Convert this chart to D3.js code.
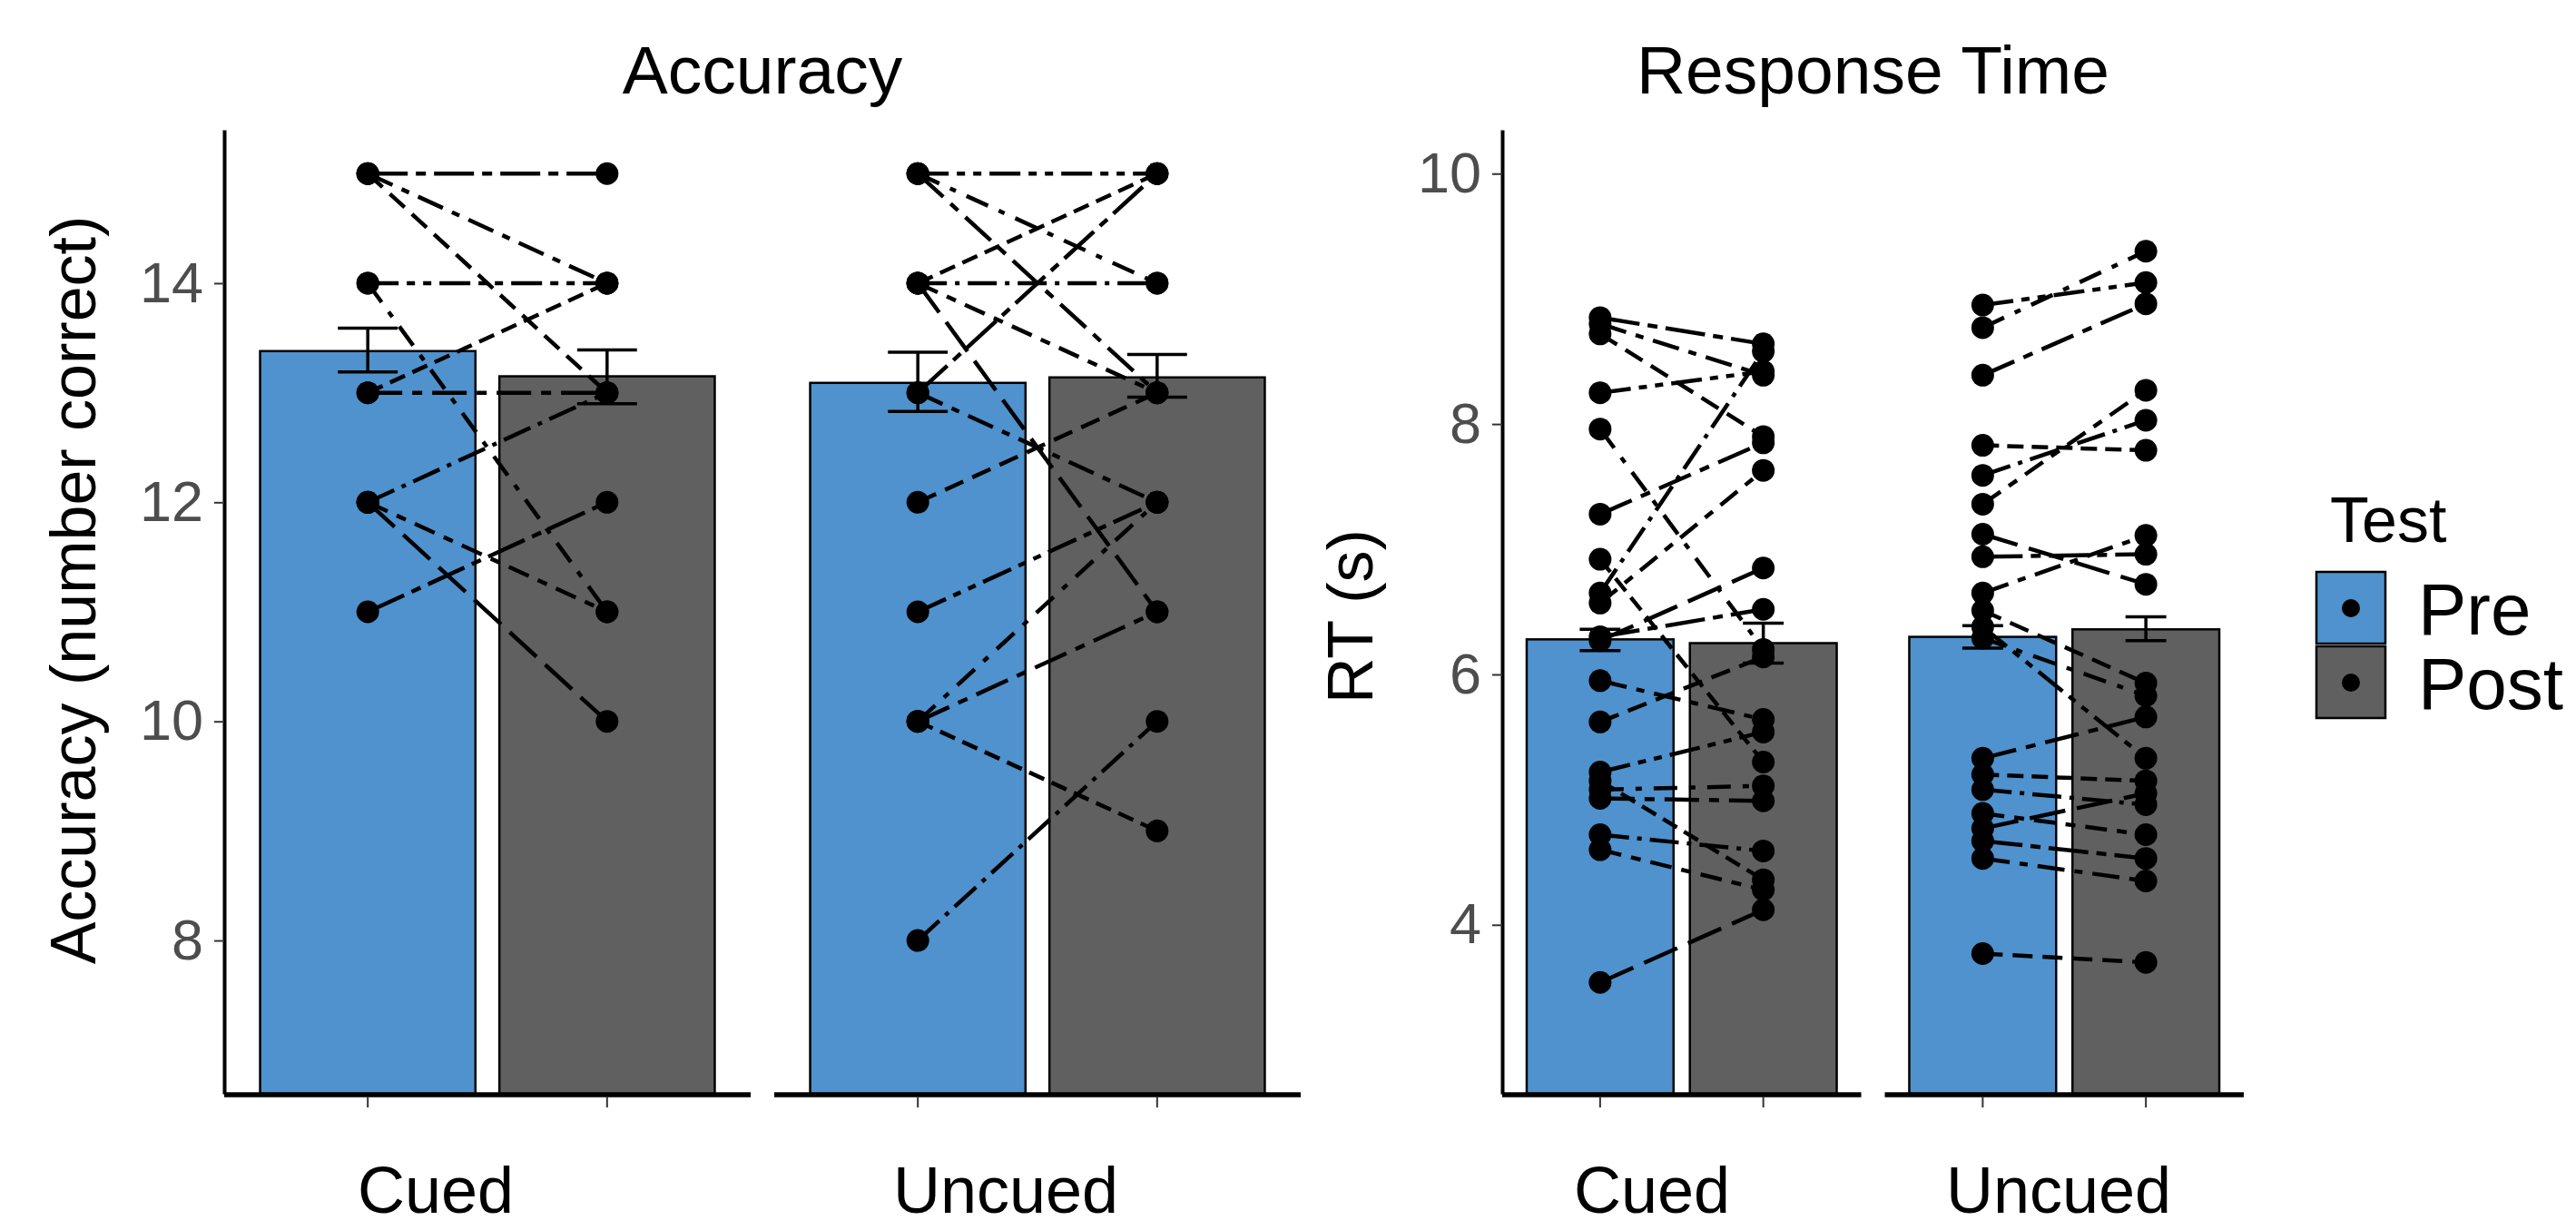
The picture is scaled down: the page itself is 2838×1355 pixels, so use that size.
<!DOCTYPE html>
<html>
<head>
<meta charset="utf-8">
<script src="https://cdn.jsdelivr.net/npm/d3@7"></script>
<style>
  body { margin: 0; background: #fff; }
  text { font-family: "Liberation Sans", Arial, sans-serif; }
</style>
</head>
<body>
<div id="chart"></div>
<script>
// Categories
const cues = ["Cued", "Uncued"];
const tests = ["Pre", "Post"];

// Accuracy: bar means and error bar limits (Pre, Post)
const accMeanCued = [13.38, 13.15];
const accLowCued = [13.19, 12.90];
const accHighCued = [13.59, 13.39];
const accMeanUncued = [13.09, 13.14];
const accLowUncued = [12.83, 12.96];
const accHighUncued = [13.37, 13.35];

// Accuracy: single participants, pre and post
const accPreCued = [15, 15, 15, 14, 14, 13, 13, 12, 12, 12, 11];
const accPostCued = [15, 14, 13, 14, 11, 13, 14, 13, 11, 10, 12];
const accPreUncued = [15, 15, 15, 14, 14, 14, 14, 13, 13, 12, 11, 10, 10, 10, 8];
const accPostUncued = [15, 14, 13, 15, 14, 13, 11, 15, 12, 13, 12, 12, 11, 9, 10];

// Response time: bar means and error bar limits (Pre, Post)
const rtMeanCued = [6.28, 6.25];
const rtLowCued = [6.19, 6.09];
const rtHighCued = [6.36, 6.41];
const rtMeanUncued = [6.30, 6.36];
const rtLowUncued = [6.21, 6.27];
const rtHighUncued = [6.39, 6.46];

// Response time: single participants, pre and post
const rtPreCued = [8.85, 8.80, 8.72, 8.25, 7.96, 7.28, 6.92, 6.65, 6.57, 6.27, 6.30, 5.95, 5.62, 5.22, 5.08, 5.01, 5.15, 4.72, 4.60, 3.54];
const rtPostCued = [8.64, 8.39, 7.90, 8.42, 6.20, 7.85, 5.30, 8.58, 7.63, 6.85, 6.52, 5.64, 6.14, 5.54, 5.11, 4.99, 4.36, 4.59, 4.28, 4.12];
const rtPreUncued = [8.95, 8.77, 8.39, 7.83, 7.59, 7.36, 7.12, 6.94, 6.65, 6.51, 6.38, 6.29, 5.33, 5.20, 5.08, 4.89, 4.77, 4.67, 4.53, 3.77];
const rtPostUncued = [9.13, 9.38, 8.96, 7.79, 8.03, 8.27, 6.72, 6.96, 7.11, 5.93, 5.33, 5.83, 5.66, 5.15, 4.96, 4.72, 5.05, 4.53, 4.35, 3.70];

// Axis ticks
const accTicks = [8, 10, 12, 14];
const rtTicks = [4, 6, 8, 10];

// Page size and shared layout
const width = 2838;
const height = 1355;
const plotTop = 143, plotBottom = 1205;
const fills = { Pre: "#4f92cd", Post: "#606060" };
const linetypes = ["44 9 11 9", "30 11 9 11", "22 11", "34 9 9 9 9 9", "26 13 7 13",
                   "38 11 11 11", "18 9", "32 9 5 9", "24 11 11 11", "40 13"];

const svg = d3.select("#chart")
  .append("svg")
  .attr("width", width)
  .attr("height", height);

// Draw one panel (Accuracy or Response Time) with its two facets
function drawPanel(opt) {
  const g = svg.append("g");

  const y = d3.scaleLinear()
    .domain(opt.domain)
    .range([plotBottom, plotTop]);

  // outer scale for the facets, 26px gap between them
  const W = opt.xRange[1] - opt.xRange[0];
  const fx = d3.scaleBand()
    .domain(cues)
    .range(opt.xRange)
    .paddingInner(52 / (W + 26))
    .paddingOuter(0);

  cues.forEach((cue, ci) => {
    const x = d3.scaleBand()
      .domain(tests)
      .range([fx(cue), fx(cue) + fx.bandwidth()])
      .paddingInner(0.1)
      .paddingOuter(0.15);
    const cx = t => x(t) + x.bandwidth() / 2;
    const capHalf = x.step() * 0.125;

    const means = opt.means[ci], lows = opt.lows[ci], highs = opt.highs[ci];
    const pre = opt.pre[ci], post = opt.post[ci];

    // bars
    g.selectAll(null)
      .data(tests)
      .enter()
      .append("rect")
      .attr("x", t => x(t))
      .attr("y", (t, i) => y(means[i]))
      .attr("width", x.bandwidth())
      .attr("height", (t, i) => plotBottom - y(means[i]))
      .attr("fill", t => fills[t])
      .attr("stroke", "#000")
      .attr("stroke-width", 2.5);

    // error bars
    const eb = g.selectAll(null)
      .data(tests)
      .enter()
      .append("g")
      .attr("stroke", "#000")
      .attr("stroke-width", 3.5);
    eb.append("line")
      .attr("x1", t => cx(t)).attr("x2", t => cx(t))
      .attr("y1", (t, i) => y(lows[i])).attr("y2", (t, i) => y(highs[i]));
    eb.append("line")
      .attr("x1", t => cx(t) - capHalf).attr("x2", t => cx(t) + capHalf)
      .attr("y1", (t, i) => y(lows[i])).attr("y2", (t, i) => y(lows[i]));
    eb.append("line")
      .attr("x1", t => cx(t) - capHalf).attr("x2", t => cx(t) + capHalf)
      .attr("y1", (t, i) => y(highs[i])).attr("y2", (t, i) => y(highs[i]));

    // participant lines
    g.selectAll(null)
      .data(pre)
      .enter()
      .append("line")
      .attr("x1", cx("Pre"))
      .attr("x2", cx("Post"))
      .attr("y1", d => y(d))
      .attr("y2", (d, i) => y(post[i]))
      .attr("stroke", "#000")
      .attr("stroke-width", 4.5)
      .attr("stroke-dasharray", (d, i) => linetypes[(i + ci * 3) % linetypes.length]);

    // participant points
    const pts = pre.map(v => ["Pre", v]).concat(post.map(v => ["Post", v]));
    g.selectAll(null)
      .data(pts)
      .enter()
      .append("circle")
      .attr("cx", d => cx(d[0]))
      .attr("cy", d => y(d[1]))
      .attr("r", 12.5)
      .attr("fill", "#000");

    // x axis line with unlabelled ticks
    g.append("line")
      .attr("x1", fx(cue)).attr("x2", fx(cue) + fx.bandwidth())
      .attr("y1", plotBottom + 1).attr("y2", plotBottom + 1)
      .attr("stroke", "#000")
      .attr("stroke-width", 5.5);
    g.selectAll(null)
      .data(tests)
      .enter()
      .append("line")
      .attr("x1", t => cx(t)).attr("x2", t => cx(t))
      .attr("y1", plotBottom + 3).attr("y2", plotBottom + 15)
      .attr("stroke", "#333")
      .attr("stroke-width", 2);

    // facet label underneath
    g.append("text")
      .attr("x", opt.labelX[ci])
      .attr("y", 1336)
      .attr("text-anchor", "middle")
      .attr("font-size", 72)
      .attr("fill", "#000")
      .text(cue);
  });

  // y axis
  const yAxis = d3.axisLeft(y)
    .tickValues(opt.ticks)
    .tickSize(11)
    .tickSizeOuter(0)
    .tickPadding(12);
  const ax = g.append("g")
    .attr("transform", `translate(${opt.xRange[0]},0)`)
    .call(yAxis);
  ax.select(".domain").attr("stroke", "#000").attr("stroke-width", 4);
  ax.selectAll(".tick line").attr("stroke", "#333").attr("stroke-width", 2);
  ax.selectAll(".tick text")
    .attr("font-size", 63)
    .attr("fill", "#4d4d4d")
    .style("font-family", "'Liberation Sans', Arial, sans-serif");

  // titles
  g.append("text")
    .attr("x", (opt.xRange[0] + opt.xRange[1]) / 2)
    .attr("y", 103)
    .attr("text-anchor", "middle")
    .attr("font-size", 75)
    .text(opt.title);

  g.append("text")
    .attr("transform", `translate(${opt.yTitleX},${opt.yTitleY}) rotate(-90)`)
    .attr("text-anchor", "middle")
    .attr("dominant-baseline", "central")
    .attr("font-size", 70)
    .text(opt.yTitle);
}

drawPanel({
  title: "Accuracy",
  yTitle: "Accuracy (number correct)",
  yTitleX: 81, yTitleY: 650,
  domain: [6.6, 15.4],
  ticks: accTicks,
  xRange: [247, 1433],
  labelX: [480, 1108],
  means: [accMeanCued, accMeanUncued],
  lows: [accLowCued, accLowUncued],
  highs: [accHighCued, accHighUncued],
  pre: [accPreCued, accPreUncued],
  post: [accPostCued, accPostUncued]
});

drawPanel({
  title: "Response Time",
  yTitle: "RT (s)",
  yTitleX: 1488, yTitleY: 679,
  domain: [2.65, 10.35],
  ticks: rtTicks,
  xRange: [1655, 2472],
  labelX: [1820, 2268],
  means: [rtMeanCued, rtMeanUncued],
  lows: [rtLowCued, rtLowUncued],
  highs: [rtHighCued, rtHighUncued],
  pre: [rtPreCued, rtPreUncued],
  post: [rtPostCued, rtPostUncued]
});

// Legend
const legend = svg.append("g").attr("transform", "translate(2552,630)");
legend.append("text")
  .attr("x", 15).attr("y", -33)
  .attr("font-size", 70)
  .text("Test");
const keys = legend.selectAll(null)
  .data(tests)
  .enter()
  .append("g")
  .attr("transform", (d, i) => `translate(0,${i * 82})`);
keys.append("rect")
  .attr("width", 76).attr("height", 79)
  .attr("fill", d => fills[d])
  .attr("stroke", "#000")
  .attr("stroke-width", 2.5);
keys.append("circle")
  .attr("cx", 38).attr("cy", 40).attr("r", 10)
  .attr("fill", "#000");
keys.append("text")
  .attr("x", 112).attr("y", 69)
  .attr("font-size", 80)
  .text(d => d);
</script>
</body>
</html>
